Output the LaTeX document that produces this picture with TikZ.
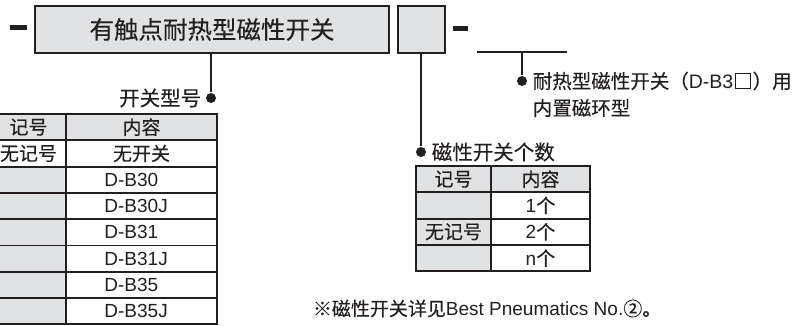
\documentclass[tikz,border=0pt]{standalone}
\usepackage{fontspec}
\setmainfont{Liberation Sans}
\newfontfamily\cjk[FakeBold=0.25]{Noto Sans CJK SC}
\newcommand{\zh}[1]{{\cjk #1}}
\usetikzlibrary{positioning,calc}
\definecolor{ink}{HTML}{231F20}
\definecolor{cellgray}{HTML}{E1E2E3}
\tikzset{
  every picture/.style={line width=1.8pt, text=ink},
  codebox/.style={draw=ink, fill=cellgray, line width=2pt, minimum height=47pt, inner sep=0pt},
  cell/.style={draw=ink, line width=1.9pt, minimum width=#1, minimum height=26.3pt, inner sep=0pt,
    font=\fontsize{19}{19}\selectfont},
  cell/.default=75pt,
  graycell/.style={cell=#1, fill=cellgray},
  graycell/.default=75pt,
  lead/.style={draw=ink, line width=2.8pt},
  dot/.style={circle, fill=ink, inner sep=0pt, minimum size=10pt},
  hyphen/.style={draw=ink, line width=4.8pt},
  tag/.style={font=\cjk\fontsize{20.5}{20.5}\selectfont, inner sep=0pt},
  remark/.style={font=\fontsize{19.5}{19.5}\selectfont, inner sep=0pt},
}
\begin{document}
\begin{tikzpicture}[x=1pt, y=-1pt]
  \useasboundingbox (0,0) rectangle (796,326);
  \clip (0,0) rectangle (796,326);
  % model code
  \draw[hyphen] (10,27.5) -- (27,27.5);
  \node[codebox, minimum width=354pt, anchor=north west, font=\cjk\fontsize{24.5}{24.5}\selectfont] (title) at (34,5) {有触点耐热型磁性开关};
  \node[codebox, minimum width=47pt, anchor=north west] (qty) at (397,5) {};
  \draw[hyphen] (453,28.5) -- (468,28.5);
  \coordinate (barL) at (477,52);
  \coordinate (barR) at (567,52);
  \draw[lead] (barL) -- (barR);
  % leaders and labels
  \node[dot] (d1) at (211,98) {};
  \node[dot] (d2) at (421,152) {};
  \node[dot] (d3) at (522,81) {};
  \draw[lead] (d1 |- title.south) -- (d1);
  \draw[lead] (d2 |- qty.south) -- (d2);
  \draw[lead] (d3 |- barL) -- (d3);
  \node[tag, left=3pt of d1] (lbtype) {开关型号};
  \node[tag, right=4pt of d2] (lbcount) {磁性开关个数};
  \node[remark, right=4pt of d3] (lbmag) {\zh{耐热型磁性开关（}D-B3\zh{□）用}};
  \node[remark, anchor=west] (lbmag2) at ($(lbmag.west)+(0,27)$) {\zh{内置磁环型}};
  % switch model table
  \node[graycell] (kh) at (28.5,127.15) {\zh{记号}};
  \node[graycell=151pt] (ch) at (141.5,127.15) {\zh{内容}};
  \node[cell] (k0) at (28.5,153.45) {\zh{无记号}};
  \node[cell=151pt] (c0) at (141.5,153.45) {\zh{无开关}};
  \foreach \n [count=\i] in {D-B30,D-B30J,D-B31,D-B31J,D-B35,D-B35J} {
    \node[graycell] (k\i) at (28.5,153.45+26.3*\i) {};
    \node[cell=151pt] (c\i) at (141.5,153.45+26.3*\i) {};
    \node[anchor=west, inner sep=0pt, font=\fontsize{19}{19}\selectfont] (t\i) at ($(c\i.west)+(38.5,0)$) {\n};
  }
  % switch count table
  \node[graycell] (qh) at (453.5,179.15) {\zh{记号}};
  \node[graycell=99pt] (ph) at (540.5,179.15) {\zh{内容}};
  \foreach \k/\v [count=\i] in {{}/1, 无记号/2, {}/n} {
    \node[graycell] (q\i) at (453.5,179.15+26.3*\i) {\zh{\k}};
    \node[cell=99pt] (p\i) at (540.5,179.15+26.3*\i) {\v\zh{个}};
  }
  % note
  \node[anchor=west, inner sep=0pt, font=\fontsize{19}{19}\selectfont] (note) at (312,308.5) {\zh{※磁性开关详见}Best Pneumatics No.\zh{②。}};
\end{tikzpicture}
\end{document}
